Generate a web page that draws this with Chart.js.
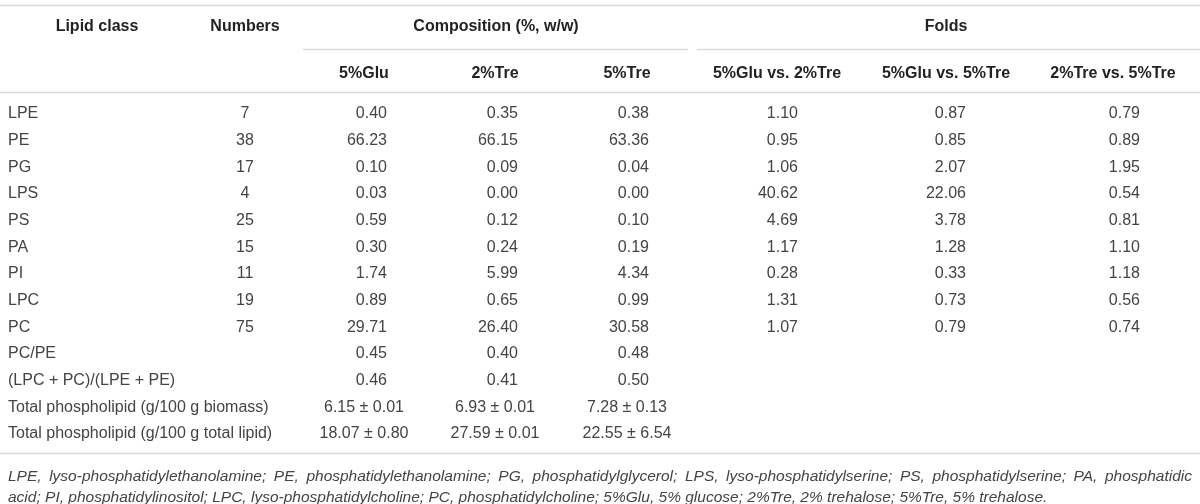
<!DOCTYPE html>
<html>
<head>
<meta charset="utf-8">
<script src="https://cdn.jsdelivr.net/npm/chart.js@4.4.1/dist/chart.umd.min.js"></script>
<style>
html, body { margin: 0; padding: 0; background: #fff; }
canvas { display: block; }
</style>
</head>
<body>
<canvas id="table" width="1200" height="504"></canvas>
<script>
// table content
const lipidClasses = ['LPE', 'PE', 'PG', 'LPS', 'PS', 'PA', 'PI', 'LPC', 'PC', 'PC/PE',
  '(LPC + PC)/(LPE + PE)', 'Total phospholipid (g/100 g biomass)', 'Total phospholipid (g/100 g total lipid)'];
const numbers = [7, 38, 17, 4, 25, 15, 11, 19, 75];

const compHeaders = ['5%Glu', '2%Tre', '5%Tre'];
const glu5 = [0.40, 66.23, 0.10, 0.03, 0.59, 0.30, 1.74, 0.89, 29.71, 0.45, 0.46];
const tre2 = [0.35, 66.15, 0.09, 0.00, 0.12, 0.24, 5.99, 0.65, 26.40, 0.40, 0.41];
const tre5 = [0.38, 63.36, 0.04, 0.00, 0.10, 0.19, 4.34, 0.99, 30.58, 0.48, 0.50];
const biomassMean = [6.15, 6.93, 7.28];
const biomassSd = [0.01, 0.01, 0.13];
const totalLipidMean = [18.07, 27.59, 22.55];
const totalLipidSd = [0.80, 0.01, 6.54];

const foldHeaders = ['5%Glu vs. 2%Tre', '5%Glu vs. 5%Tre', '2%Tre vs. 5%Tre'];
const gluVsTre2 = [1.10, 0.95, 1.06, 40.62, 4.69, 1.17, 0.28, 1.31, 1.07];
const gluVsTre5 = [0.87, 0.85, 2.07, 22.06, 3.78, 1.28, 0.33, 0.73, 0.79];
const tre2VsTre5 = [0.79, 0.89, 1.95, 0.54, 0.81, 1.10, 1.18, 0.56, 0.74];

const footnote1 = 'LPE, lyso-phosphatidylethanolamine; PE, phosphatidylethanolamine; PG, phosphatidylglycerol; LPS, lyso-phosphatidylserine; PS, phosphatidylserine; PA, phosphatidic';
const footnote2 = 'acid; PI, phosphatidylinositol; LPC, lyso-phosphatidylcholine; PC, phosphatidylcholine; 5%Glu, 5% glucose; 2%Tre, 2% trehalose; 5%Tre, 5% trehalose.';

// layout (x in px units, y in row units)
const FONT = '"Liberation Sans", Arial, sans-serif';
const BODY = `16px ${FONT}`;
const BOLD = `bold 16px ${FONT}`;
const NOTE = `italic 15.5px ${FONT}`;
const TEXT_COLOR = '#444';
const HEAD_COLOR = '#222';
const RULE_COLOR = '#d9d9d9';
const TEXT_DY = 1.5;

const ROW_HEAD1 = -3.27;
const ROW_HEAD2 = -1.51;
const ROW_NOTE1 = 13.6;
const ROW_NOTE2 = 14.39;
const compRight = [387, 518, 649];
const compCenter = [364, 495, 627];
const foldRight = [798, 966, 1140];
const foldCenter = [777, 946, 1113];
const rules = [
  { y: -4.02, x0: 0, x1: 1200 },
  { y: -2.38, x0: 303, x1: 688 },
  { y: -2.38, x0: 697, x1: 1200 },
  { y: -0.76, x0: 0, x1: 1200 },
  { y: 12.77, x0: 0, x1: 1200 }
];

const fmt = v => v.toFixed(2);
const pm = (m, s) => `${fmt(m)} \u00b1 ${fmt(s)}`;

function textColumn(x, texts, rows, align, font, color) {
  return {
    type: 'scatter',
    data: texts.map((t, i) => ({ x, y: rows[i] })),
    texts,
    align,
    font,
    color: color || TEXT_COLOR,
    pointRadius: 0,
    pointHoverRadius: 0
  };
}

const rowIdx = lipidClasses.map((_, i) => i);
const datasets = [
  // headers
  textColumn(97, ['Lipid class'], [ROW_HEAD1], 'center', BOLD, HEAD_COLOR),
  textColumn(245, ['Numbers'], [ROW_HEAD1], 'center', BOLD, HEAD_COLOR),
  textColumn(496, ['Composition (%, w/w)'], [ROW_HEAD1], 'center', BOLD, HEAD_COLOR),
  textColumn(946, ['Folds'], [ROW_HEAD1], 'center', BOLD, HEAD_COLOR),
  ...compHeaders.map((h, k) => textColumn(compCenter[k], [h], [ROW_HEAD2], 'center', BOLD, HEAD_COLOR)),
  ...foldHeaders.map((h, k) => textColumn(foldCenter[k], [h], [ROW_HEAD2], 'center', BOLD, HEAD_COLOR)),
  // body
  textColumn(8, lipidClasses, rowIdx, 'left', BODY),
  textColumn(245, numbers.map(String), rowIdx, 'center', BODY),
  ...[glu5, tre2, tre5].map((s, k) => textColumn(compRight[k], s.map(fmt), rowIdx, 'right', BODY)),
  ...compCenter.map((c, k) => textColumn(c,
    [pm(biomassMean[k], biomassSd[k]), pm(totalLipidMean[k], totalLipidSd[k])], [11, 12], 'center', BODY)),
  ...[gluVsTre2, gluVsTre5, tre2VsTre5].map((s, k) => textColumn(foldRight[k], s.map(fmt), rowIdx, 'right', BODY)),
  // footnotes
  Object.assign(textColumn(8, [footnote1], [ROW_NOTE1], 'left', NOTE), { justifyTo: 1192 }),
  textColumn(8, [footnote2], [ROW_NOTE2], 'left', NOTE)
];

const tablePlugin = {
  id: 'tableText',
  beforeDatasetsDraw(chart) {
    const { ctx, scales: { x, y } } = chart;
    ctx.save();
    ctx.strokeStyle = RULE_COLOR;
    ctx.lineWidth = 1.5;
    rules.forEach(r => {
      const py = Math.round(y.getPixelForValue(r.y)) + 0.5;
      ctx.beginPath();
      ctx.moveTo(x.getPixelForValue(r.x0), py);
      ctx.lineTo(x.getPixelForValue(r.x1), py);
      ctx.stroke();
    });
    ctx.restore();
  },
  afterDatasetsDraw(chart) {
    const ctx = chart.ctx;
    chart.data.datasets.forEach((ds, di) => {
      const meta = chart.getDatasetMeta(di);
      ctx.save();
      ctx.font = ds.font;
      ctx.fillStyle = ds.color;
      ctx.textAlign = ds.align;
      ctx.textBaseline = 'middle';
      meta.data.forEach((pt, i) => {
        const txt = ds.texts[i];
        const ty = pt.y + TEXT_DY;
        if (ds.justifyTo) {
          // spread words across the full line width
          const words = txt.split(' ');
          const wordsW = words.reduce((a, w) => a + ctx.measureText(w).width, 0);
          const end = chart.scales.x.getPixelForValue(ds.justifyTo);
          const gap = Math.max(3, (end - pt.x - wordsW) / (words.length - 1));
          ctx.textAlign = 'left';
          let cx = pt.x;
          words.forEach(w => {
            ctx.fillText(w, cx, ty);
            cx += ctx.measureText(w).width + gap;
          });
        } else {
          ctx.fillText(txt, pt.x, ty);
        }
      });
      ctx.restore();
    });
  }
};

new Chart(document.getElementById('table'), {
  type: 'scatter',
  data: { datasets },
  options: {
    responsive: false,
    animation: false,
    events: [],
    layout: { padding: 0 },
    plugins: { legend: { display: false }, tooltip: { enabled: false } },
    scales: {
      x: { type: 'linear', min: 0, max: 1200, display: false },
      y: { type: 'linear', min: -4.21, max: 14.69, reverse: true, display: false }
    }
  },
  plugins: [tablePlugin]
});
</script>
</body>
</html>
